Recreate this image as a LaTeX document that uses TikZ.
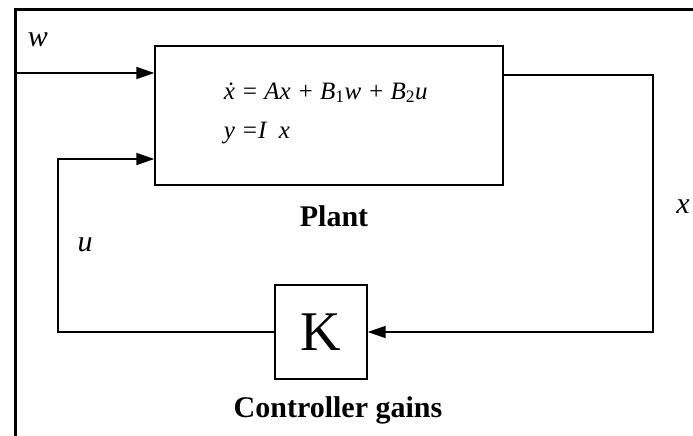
\documentclass[tikz,border=0pt]{standalone}
\usepackage{fontspec}
\setmainfont{Liberation Serif}
\usetikzlibrary{arrows.meta,positioning}

\begin{document}
\begin{tikzpicture}[x=1pt, y=-1pt, line width=1.8pt, >={Triangle[length=18pt,width=12pt]}]
        \useasboundingbox (0,0) rectangle (693,436);
        \draw[line width=3pt] (15,436) -- (15,10) -- (693,10);

        \node[draw, line width=1.4pt, minimum width=348pt, minimum height=139pt, inner sep=0pt] (plant) at (329,115.5) {};
        \node[draw, line width=1.4pt, minimum width=92pt, minimum height=94pt, inner sep=0pt, font=\fontsize{56}{60}\selectfont] (gain) at (321,332) {K};

        \node[anchor=base west, inner sep=0pt, font=\fontsize{25}{28}\selectfont] (eqone) at (223,99) {\itshape \.{x} = Ax + B\textsubscript{\upshape 1}w + B\textsubscript{\upshape 2}u};
        \node[anchor=base west, inner sep=0pt, font=\fontsize{25}{28}\selectfont] (eqtwo) at (223,138) {\itshape y =I\ \ x};

        \node[font=\fontsize{30}{34}\selectfont\bfseries] (plantlab) at (334,216) {Plant};
        \node[font=\fontsize{30}{34}\selectfont\bfseries] (gainlab) at (338,410) {Controller gains};
        \node[font=\fontsize{30}{34}\selectfont\itshape] (wlab) at (38,40) {w};
        \node[font=\fontsize{30}{34}\selectfont\itshape] (ulab) at (85,245) {u};
        \node[font=\fontsize{30}{34}\selectfont\itshape] (xlab) at (683,207) {x};

        \coordinate (win) at (15,73);
        \coordinate (xc) at (653,75);
        \coordinate (uin) at (58,159);

        \draw[->] (win) -- (plant.west |- win);
        \draw[->] (plant.east |- xc) -- (xc) |- (gain.east);
        \draw[->] (gain.west) -| (uin) -- (plant.west |- uin);
    \end{tikzpicture}
\end{document}
